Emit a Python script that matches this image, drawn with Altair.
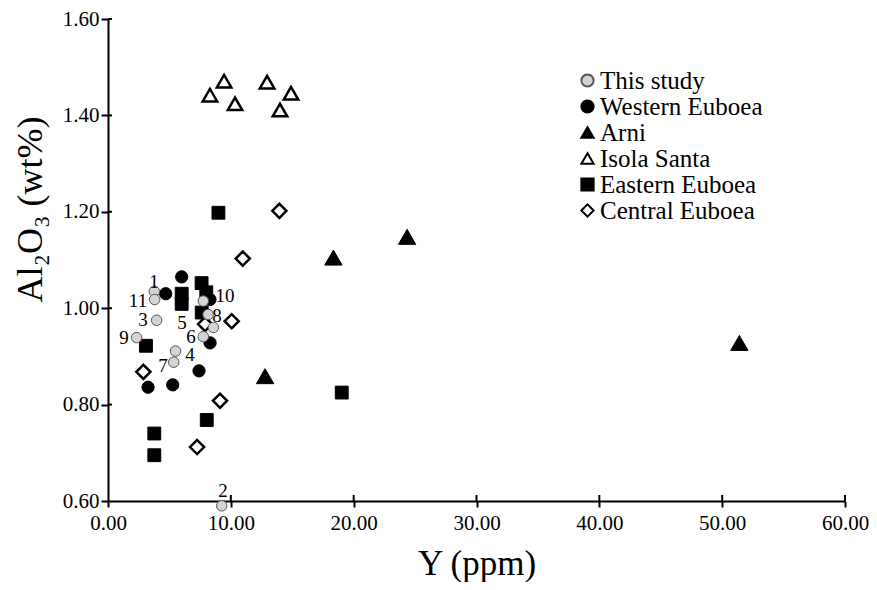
import altair as alt
import pandas as pd

# ---- data ----
groups = ["This study", "Western Euboea", "Arni", "Isola Santa", "Eastern Euboea", "Central Euboea"]

isola_x = [8.3, 9.45, 10.34, 12.95, 14.9, 14.0]
isola_y = [1.442, 1.471, 1.424, 1.469, 1.446, 1.411]

arni_x = [24.35, 18.35, 12.79, 51.4]
arni_y = [1.148, 1.105, 0.859, 0.928]

central_x = [13.95, 10.97, 10.07, 7.9, 9.12, 7.25, 2.88]
central_y = [1.202, 1.103, 0.973, 0.967, 0.808, 0.712, 0.868]

eastern_x = [8.99, 7.62, 8.0, 6.0, 6.0, 7.63, 3.09, 8.04, 3.77, 3.77, 19.03]
eastern_y = [1.198, 1.052, 1.033, 1.030, 1.009, 0.991, 0.922, 0.768, 0.740, 0.695, 0.825]

western_x = [6.0, 4.7, 8.3, 8.31, 7.41, 3.26, 5.27]
western_y = [1.065, 1.030, 1.018, 0.928, 0.870, 0.836, 0.841]

study_label = ["1", "11", "3", "9", "4", "7", "6", "5", "8", "10", "2"]
study_x = [3.77, 3.80, 3.96, 2.33, 5.50, 5.35, 7.76, 8.15, 8.58, 7.76, 9.26]
study_y = [1.035, 1.018, 0.975, 0.939, 0.911, 0.888, 0.941, 0.987, 0.960, 1.015, 0.590]

# annotation anchor positions for the sample numbers (data units)
label_x = [3.75, 2.44, 2.85, 1.30, 6.68, 4.48, 6.76, 6.03, 8.88, 9.53, 9.36]
label_y = [1.054, 1.015, 0.976, 0.938, 0.903, 0.880, 0.940, 0.969, 0.984, 1.025, 0.621]

x_ticks = [0, 10, 20, 30, 40, 50, 60]
y_ticks = [0.6, 0.8, 1.0, 1.2, 1.4, 1.6]

# marker styling per group (style, not data)
marker_size = {"This study": 110, "Western Euboea": 150, "Arni": 300, "Isola Santa": 210,
               "Eastern Euboea": 165, "Central Euboea": 200}
marker_stroke_w = {"This study": 1, "Western Euboea": 1, "Arni": 1, "Isola Santa": 2.5,
                   "Eastern Euboea": 1, "Central Euboea": 2.5}

rows = []
for g, xs, ys in [("Isola Santa", isola_x, isola_y), ("Arni", arni_x, arni_y),
                  ("Central Euboea", central_x, central_y), ("Eastern Euboea", eastern_x, eastern_y),
                  ("Western Euboea", western_x, western_y), ("This study", study_x, study_y)]:
    for xv, yv in zip(xs, ys):
        rows.append({"group": g, "x": xv, "y": yv})
df = pd.DataFrame(rows)
df["order"] = range(len(df))
df["sz"] = df["group"].map(marker_size)
df["sw"] = df["group"].map(marker_stroke_w)

lab_df = pd.DataFrame({"label": study_label, "x": label_x, "y": label_y})

FONT = "Liberation Serif"
W, H = 737, 482

xscale = alt.Scale(domain=[0, 60], nice=False, zero=False)
yscale = alt.Scale(domain=[0.6, 1.6], nice=False, zero=False)

legend = alt.Legend(title=None, orient="none", legendX=467, legendY=49,
                    labelFont=FONT, labelFontSize=25, labelColor="black",
                    rowPadding=0, symbolOffset=0, labelOffset=0, labelLimit=0,
                    symbolSize=150, symbolStrokeWidth=2)

points = alt.Chart(df).mark_point(filled=True, opacity=1, clip=False).encode(
    x=alt.X("x:Q", scale=xscale,
            axis=alt.Axis(title="Y (ppm)", values=x_ticks, format=".2f", labelFlush=False,
                          labelFontSize=21,
                          titleFontSize=35, titleX=W / 2, titleY=73,
                          titleBaseline="alphabetic", titleFontWeight="normal",
                          tickSize=6, labelPadding=5)),
    y=alt.Y("y:Q", scale=yscale,
            axis=alt.Axis(title="Al₂O₃ (wt%)", values=y_ticks, format=".2f", labelFlush=False,
                          labelFontSize=21,
                          titleFontSize=36, titleX=-78, titleY=190, titleAngle=-90,
                          titleAlign="center", titleBaseline="middle",
                          titleFontWeight="normal", tickSize=7, labelPadding=2)),
    shape=alt.Shape("group:N", scale=alt.Scale(domain=groups,
                    range=["circle", "circle", "triangle-up", "triangle-up", "square", "diamond"]),
                    legend=legend),
    fill=alt.Fill("group:N", scale=alt.Scale(domain=groups,
                  range=["#d4d4d4", "black", "black", "white", "black", "white"]), legend=legend),
    stroke=alt.Stroke("group:N", scale=alt.Scale(domain=groups,
                      range=["#555555", "black", "black", "black", "black", "black"]), legend=legend),
    size=alt.Size("sz:Q", scale=None, legend=None),
    strokeWidth=alt.StrokeWidth("sw:Q", scale=None, legend=None),
    order=alt.Order("order:Q"),
)

labels = alt.Chart(lab_df).mark_text(font=FONT, fontSize=19, color="black",
                                     align="center", baseline="middle").encode(
    x=alt.X("x:Q", scale=xscale), y=alt.Y("y:Q", scale=yscale), text="label:N")

ytick_df = pd.DataFrame({"y": y_ticks[1:]})
yin = alt.Chart(ytick_df).mark_rule(color="black", strokeWidth=2).encode(
    y=alt.Y("y:Q", scale=yscale), x=alt.value(0), x2=alt.value(4))
xtick_df = pd.DataFrame({"x": x_ticks[1:]})
xin = alt.Chart(xtick_df).mark_rule(color="black", strokeWidth=2).encode(
    x=alt.X("x:Q", scale=xscale), y=alt.value(H), y2=alt.value(H - 6))

chart = alt.layer(yin, xin, points, labels).properties(
    width=W, height=H,
    background="white",
    autosize=alt.AutoSizeParams(type="none"),
    padding={"left": 100, "top": 11, "right": 24, "bottom": 81},
).configure_view(stroke=None).configure_axis(
    grid=False, domainColor="black", domainWidth=2, tickColor="black", tickWidth=2,
    labelFont=FONT, labelFontSize=22, labelColor="black",
    titleFont=FONT, titleColor="black",
)

chart.save("out.html", embed_options={"renderer": "svg", "actions": False})
